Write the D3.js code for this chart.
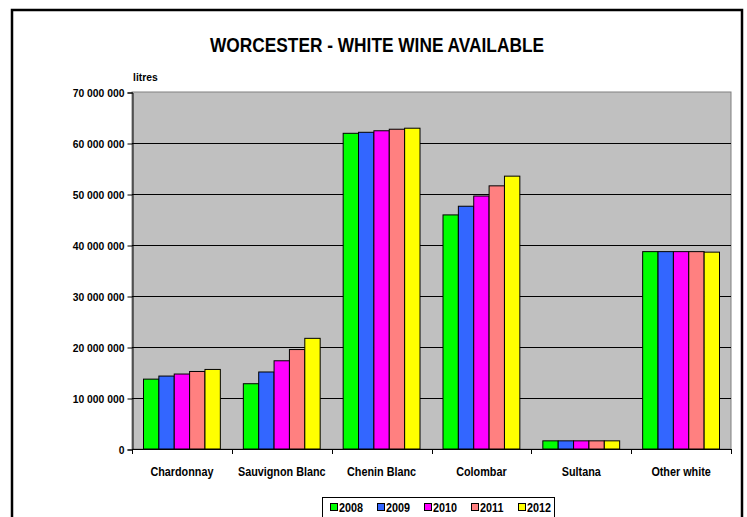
<!DOCTYPE html>
<html>
<head>
<meta charset="utf-8">
<script src="https://cdn.jsdelivr.net/npm/d3@7"></script>
<style>
  body { margin: 0; background: #fff; }
  svg { display: block; font-family: "Liberation Sans", Arial, sans-serif; }
  .lbl { font-weight: bold; fill: #000; }
</style>
</head>
<body>
<svg id="chart" width="747" height="517"></svg>
<script>
/* ---------------------------------------------------
   Data
--------------------------------------------------- */

const categories = ["Chardonnay", "Sauvignon Blanc", "Chenin Blanc", "Colombar", "Sultana", "Other white"];
const years = ["2008", "2009", "2010", "2011", "2012"];

// litres, one array per year, in category order
const v2008 = [13700000, 12800000, 61900000, 45900000, 1600000, 38700000];
const v2009 = [14300000, 15100000, 62100000, 47600000, 1600000, 38700000];
const v2010 = [14700000, 17300000, 62400000, 49600000, 1600000, 38700000];
const v2011 = [15200000, 19500000, 62700000, 51600000, 1600000, 38700000];
const v2012 = [15600000, 21700000, 62900000, 53500000, 1600000, 38600000];
const series = [v2008, v2009, v2010, v2011, v2012];

const yTicks = [0, 10000000, 20000000, 30000000, 40000000, 50000000, 60000000, 70000000];

const colours = ["#00FF00", "#3366FF", "#FF00FF", "#FF8080", "#FFFF00"];

/* ---------------------------------------------------
   Setup
--------------------------------------------------- */

const svg = d3.select("#chart");
const plot = { left: 132, right: 731, top: 92, bottom: 449 };

// squeeze text horizontally a bit, the original font is taller than it is wide
function condense(sel, k) {
  sel.each(function () {
    const w = this.getComputedTextLength();
    d3.select(this).attr("textLength", w * k).attr("lengthAdjust", "spacingAndGlyphs");
  });
}

// outer frame
svg.append("rect")
  .attr("x", 12).attr("y", 10)
  .attr("width", 730).attr("height", 520)
  .attr("fill", "#fff")
  .attr("stroke", "#000")
  .attr("stroke-width", 2.5);

svg.append("text")
  .attr("class", "lbl")
  .attr("x", 377).attr("y", 52)
  .attr("text-anchor", "middle")
  .attr("font-size", 20)
  .attr("textLength", 334)
  .attr("lengthAdjust", "spacingAndGlyphs")
  .text("WORCESTER - WHITE WINE AVAILABLE");

const x0 = d3.scaleBand()
  .domain(categories)
  .range([plot.left, plot.right]);

const x1 = d3.scaleBand()
  .domain(years)
  .range([11.5, x0.bandwidth() - 11.5]);

const y = d3.scaleLinear()
  .domain([0, 70000000])
  .range([plot.bottom, plot.top]);

/* ---------------------------------------------------
   Plot area
--------------------------------------------------- */

svg.append("rect")
  .attr("x", plot.left).attr("y", plot.top)
  .attr("width", plot.right - plot.left)
  .attr("height", plot.bottom - plot.top)
  .attr("fill", "#C0C0C0")
  .attr("stroke", "#808080")
  .attr("stroke-width", 1);

svg.append("g")
  .selectAll("line")
  .data(yTicks.filter(d => d > 0 && d < 70000000))
  .join("line")
  .attr("x1", plot.left).attr("x2", plot.right)
  .attr("y1", d => Math.round(y(d)) + 0.5)
  .attr("y2", d => Math.round(y(d)) + 0.5)
  .attr("stroke", "#000");

const fmt = d => d3.format(",")(d).replace(/,/g, " ");

const yAxis = svg.append("g")
  .attr("transform", `translate(${plot.left + 0.5},0.5)`)
  .call(d3.axisLeft(y).tickValues(yTicks).tickSize(5).tickPadding(3).tickFormat(fmt));
yAxis.select(".domain").attr("stroke", "#000");
yAxis.selectAll("text")
  .attr("class", "lbl")
  .attr("font-size", 11.5)
  .attr("font-family", "Liberation Sans, Arial, sans-serif")
  .call(condense, 0.9);

svg.append("text")
  .attr("class", "lbl")
  .attr("x", 133).attr("y", 81)
  .attr("font-size", 11.5)
  .text("litres")
  .call(condense, 0.9);

/* ---------------------------------------------------
   Bars
--------------------------------------------------- */

const groups = svg.append("g")
  .selectAll("g")
  .data(categories)
  .join("g")
  .attr("transform", d => `translate(${x0(d)},0)`);

groups.selectAll("rect")
  .data((c, ci) => years.map((yr, si) => ({ yr, si, v: series[si][ci] })))
  .join("rect")
  .attr("x", d => x1(d.yr))
  .attr("y", d => y(d.v))
  .attr("width", x1.bandwidth())
  .attr("height", d => y(0) - y(d.v))
  .attr("fill", d => colours[d.si])
  .attr("stroke", "#000")
  .attr("stroke-width", 1);

/* ---------------------------------------------------
   X axis
--------------------------------------------------- */

const xAxis = svg.append("g");
xAxis.append("line")
  .attr("x1", plot.left).attr("x2", plot.right)
  .attr("y1", plot.bottom + 0.5).attr("y2", plot.bottom + 0.5)
  .attr("stroke", "#000");

xAxis.selectAll(".tk")
  .data(categories.concat(["end"]))
  .join("line")
  .attr("class", "tk")
  .attr("x1", (d, i) => Math.round(plot.left + i * x0.bandwidth()) + 0.5)
  .attr("x2", (d, i) => Math.round(plot.left + i * x0.bandwidth()) + 0.5)
  .attr("y1", plot.bottom).attr("y2", plot.bottom + 5)
  .attr("stroke", "#000");

xAxis.selectAll(".cl")
  .data(categories)
  .join("text")
  .attr("class", "lbl cl")
  .attr("x", d => x0(d) + x0.bandwidth() / 2)
  .attr("y", 476)
  .attr("text-anchor", "middle")
  .attr("font-size", 12)
  .text(d => d)
  .call(condense, 0.9);

/* ---------------------------------------------------
   Legend
--------------------------------------------------- */

const legend = svg.append("g");
legend.append("rect")
  .attr("x", 322.5).attr("y", 497.5)
  .attr("width", 232).attr("height", 30)
  .attr("fill", "#fff")
  .attr("stroke", "#000");

const item = legend.selectAll(".item")
  .data(years)
  .join("g")
  .attr("class", "item")
  .attr("transform", (d, i) => `translate(${330 + i * 47},0)`);

item.append("rect")
  .attr("x", 0.5).attr("y", 503.5)
  .attr("width", 7).attr("height", 7)
  .attr("fill", (d, i) => colours[i])
  .attr("stroke", "#000");

item.append("text")
  .attr("class", "lbl")
  .attr("x", 9).attr("y", 511.5)
  .attr("font-size", 12)
  .text(d => d)
  .call(condense, 0.9);
</script>
</body>
</html>
